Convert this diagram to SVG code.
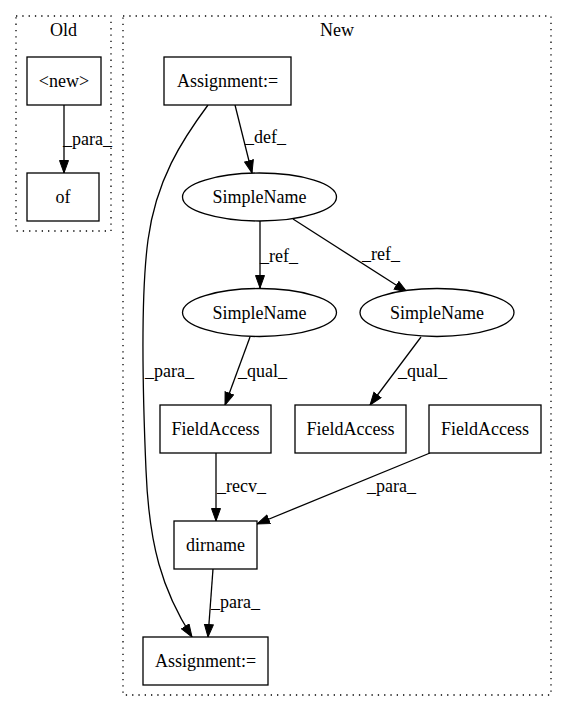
<svg xmlns="http://www.w3.org/2000/svg" width="568" height="712" viewBox="0 0 568 712">
<style>
text{font-family:'Liberation Serif','Times New Roman',serif;font-size:18px;fill:#000}
.n{fill:#fff;stroke:#000;stroke-width:1.3}
.c{fill:none;stroke:#000;stroke-width:1.3;stroke-dasharray:1.3,5}
.e{fill:none;stroke:#000;stroke-width:1.3;marker-end:url(#a)}
.m{text-anchor:middle}
</style>
<defs>
<marker id="a" markerUnits="userSpaceOnUse" markerWidth="14" markerHeight="12" refX="13" refY="5" orient="auto">
<path d="M0.5,0.5 L13,5 L0.5,9.5 z" fill="#000" stroke="#000" stroke-width="1"/>
</marker>
</defs>
<rect width="568" height="712" fill="#fff"/>
<g font-family="'Liberation Serif','Times New Roman',serif" font-size="18">
<g id="cluster_old">
<rect class="c" x="16" y="16" width="95" height="215"/>
<text class="m" x="63.5" y="36">Old</text>
</g>
<g id="cluster_new">
<rect class="c" x="123" y="16" width="428" height="679"/>
<text class="m" x="337" y="36">New</text>
</g>
<g id="edges">
<path class="e" d="M64,105 L64,173"/>
<text x="63" y="145">_para_</text>
<path class="e" d="M235,105 L252,173"/>
<text x="245" y="143">_def_</text>
<path class="e" d="M208,105 C182,140 156,180 148,240 C140,300 143,400 146,470 C149,545 162,590 192,637"/>
<text x="145" y="377">_para_</text>
<path class="e" d="M260,221 L260,288"/>
<text x="260" y="262">_ref_</text>
<path class="e" d="M293,219 L407,292"/>
<text x="362" y="260">_ref_</text>
<path class="e" d="M250,337 L225,405"/>
<text x="238" y="377">_qual_</text>
<path class="e" d="M421,337 L370,405"/>
<text x="398" y="377">_qual_</text>
<path class="e" d="M216,453 L216,521"/>
<text x="217" y="492">_recv_</text>
<path class="e" d="M430,453 L257,524"/>
<text x="367" y="492">_para_</text>
<path class="e" d="M213,569 L208,637"/>
<text x="211" y="608">_para_</text>
</g>
<g id="n_new">
<rect class="n" x="27" y="57" width="74" height="48"/>
<text class="m" x="64" y="87">&lt;new&gt;</text>
</g>
<g id="n_of">
<rect class="n" x="27" y="173" width="72" height="48"/>
<text class="m" x="63" y="203">of</text>
</g>
<g id="n_assign_top">
<rect class="n" x="164" y="57" width="127" height="48"/>
<text class="m" x="227.5" y="87">Assignment:=</text>
</g>
<g id="n_sn_top">
<ellipse class="n" cx="259.5" cy="197" rx="77" ry="24"/>
<text class="m" x="259.5" y="203">SimpleName</text>
</g>
<g id="n_sn_left">
<ellipse class="n" cx="259.5" cy="312.5" rx="77" ry="24"/>
<text class="m" x="259.5" y="318.5">SimpleName</text>
</g>
<g id="n_sn_right">
<ellipse class="n" cx="437" cy="312.5" rx="77" ry="24"/>
<text class="m" x="437" y="318.5">SimpleName</text>
</g>
<g id="n_fa1">
<rect class="n" x="160" y="405" width="111" height="48"/>
<text class="m" x="215.5" y="435">FieldAccess</text>
</g>
<g id="n_fa2">
<rect class="n" x="295" y="405" width="111" height="48"/>
<text class="m" x="350.5" y="435">FieldAccess</text>
</g>
<g id="n_fa3">
<rect class="n" x="429" y="405" width="112" height="48"/>
<text class="m" x="485" y="435">FieldAccess</text>
</g>
<g id="n_dirname">
<rect class="n" x="174" y="521" width="83" height="48"/>
<text class="m" x="215.5" y="551">dirname</text>
</g>
<g id="n_assign_bottom">
<rect class="n" x="143" y="637" width="125" height="48"/>
<text class="m" x="205.5" y="667">Assignment:=</text>
</g>
</g>
</svg>
